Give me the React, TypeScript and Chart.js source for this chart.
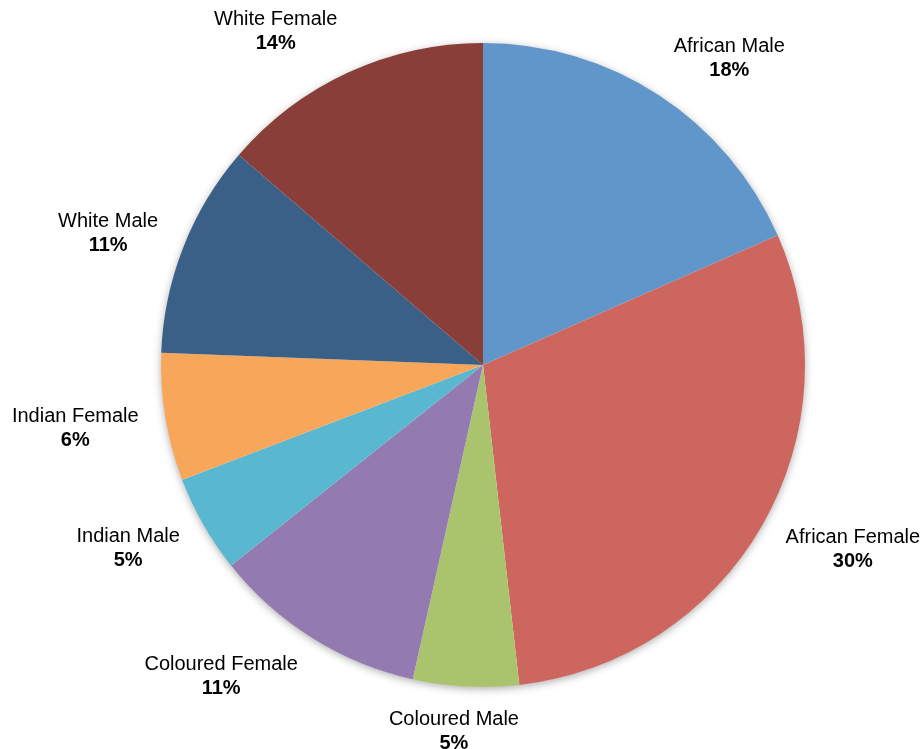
import React, { useEffect, useRef } from "react";
import { Chart, registerables } from "chart.js";

Chart.register(...registerables);

const categories = [
  "African Male",
  "African Female",
  "Coloured Male",
  "Coloured Female",
  "Indian Male",
  "Indian Female",
  "White Male",
  "White Female",
];
const shares = [18.4, 29.8, 5.3, 10.8, 4.9, 6.4, 10.7, 13.7];
const sliceColors = [
  "#6096C9",
  "#CD665E",
  "#A9C46C",
  "#937BB1",
  "#5AB7D0",
  "#F8A65A",
  "#3A6087",
  "#8A3E3A",
];

const FONT = '"Liberation Sans", Arial, Helvetica, sans-serif';

const shadowPlugin = {
  id: "pieShadow",
  beforeDatasetsDraw(chart: any) {
    const meta = chart.getDatasetMeta(0);
    const arc = meta.data[0];
    if (!arc) return;
    const { x, y, outerRadius } = arc.getProps(["x", "y", "outerRadius"], true);
    const ctx = chart.ctx;
    ctx.save();
    ctx.shadowColor = "rgba(0,0,0,0.35)";
    ctx.shadowBlur = 8;
    ctx.shadowOffsetX = 0;
    ctx.shadowOffsetY = 2;
    ctx.beginPath();
    ctx.arc(x, y, outerRadius - 0.5, 0, Math.PI * 2);
    ctx.fillStyle = "#ffffff";
    ctx.fill();
    ctx.restore();
  },
};

const labelPlugin = {
  id: "outsideLabels",
  afterDatasetsDraw(chart: any) {
    const meta = chart.getDatasetMeta(0);
    const data = chart.data.datasets[0].data as number[];
    const total = data.reduce((a, b) => a + b, 0);
    const ctx = chart.ctx;
    ctx.save();
    ctx.fillStyle = "#000000";
    ctx.textAlign = "center";
    ctx.textBaseline = "middle";
    meta.data.forEach((el: any, i: number) => {
      const { x, y, startAngle, endAngle, outerRadius } = el.getProps(
        ["x", "y", "startAngle", "endAngle", "outerRadius"],
        true
      );
      const mid = (startAngle + endAngle) / 2;
      const name = chart.data.labels[i] as string;
      const pct = Math.round((data[i] / total) * 100) + "%";
      ctx.font = `20px ${FONT}`;
      const w1 = ctx.measureText(name).width;
      ctx.font = `bold 20px ${FONT}`;
      const w2 = ctx.measureText(pct).width;
      const w = Math.max(w1, w2);
      const c = Math.cos(mid);
      const s = Math.sin(mid);
      const k = Math.max(-1, Math.min(1, 3 * c));
      const lx = x + (outerRadius + 27) * c + (w / 2) * k;
      const ly = y + (outerRadius + 45) * s + 4 * (1 - Math.abs(s));
      ctx.font = `20px ${FONT}`;
      ctx.fillText(name, lx, ly - 12);
      ctx.font = `bold 20px ${FONT}`;
      ctx.fillText(pct, lx, ly + 12);
    });
    ctx.restore();
  },
};

export default function App() {
  const ref = useRef<HTMLCanvasElement | null>(null);
  useEffect(() => {
    document.body.style.margin = "0";
    const canvas = ref.current;
    if (!canvas) return;
    const chart = new Chart(canvas, {
      type: "pie",
      data: {
        labels: categories,
        datasets: [
          {
            data: shares,
            backgroundColor: sliceColors,
            borderWidth: 0,
          },
        ],
      },
      options: {
        responsive: false,
        animation: false,
        layout: { padding: { left: 161, right: 118, top: 43, bottom: 62 } },
        plugins: {
          legend: { display: false },
          tooltip: { enabled: false },
          title: { display: false },
        },
      },
      plugins: [shadowPlugin, labelPlugin],
    });
    return () => chart.destroy();
  }, []);
  return (
    <div style={{ width: 923, height: 749, background: "#ffffff" }}>
      <canvas ref={ref} width={923} height={749} style={{ display: "block" }} />
    </div>
  );
}
